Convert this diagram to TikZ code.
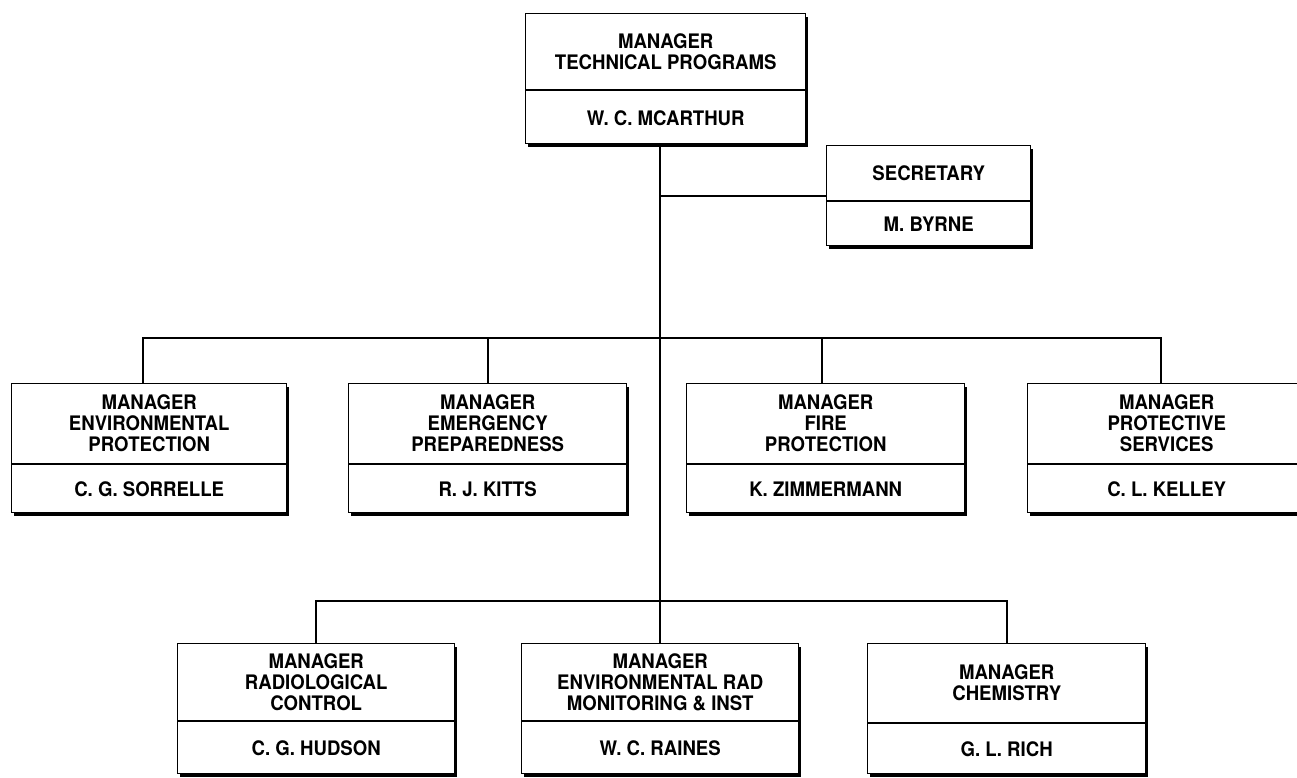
\documentclass[tikz,border=0pt]{standalone}
\usepackage{fontspec}
\setmainfont{TeX Gyre Heros}[FakeStretch=0.93]
\usetikzlibrary{calc,shadows}

\tikzset{
  unitbox/.style={draw, line width=1.4pt, fill=white, inner sep=0pt, anchor=north west,
    drop shadow={shadow xshift=2.5pt, shadow yshift=-3.5pt, fill=black, opacity=1}},
  unittitle/.style={align=center, inner sep=0pt, font=\bfseries\fontsize{20}{21}\selectfont},
  unitname/.style={inner sep=0pt, font=\bfseries\fontsize{20}{21}\selectfont},
  divider/.style={line width=1.4pt},
  link/.style={line width=1.6pt}
}

\begin{document}
\begin{tikzpicture}[x=1pt,y=1pt]
    \useasboundingbox (0,0) rectangle (1297,-778);
    \coordinate (row) at (0,-338);
    \coordinate (low) at (0,-601);

    % top
    \node[unitbox, minimum width=280, minimum height=130] (boss) at (525,-13) {};
    \draw[divider] ([yshift=-77]boss.north west) -- ([yshift=-77]boss.north east);
    \node[unittitle] (bossT) at ([yshift=-38.5]boss.north) {MANAGER\\TECHNICAL PROGRAMS};
    \node[unitname] (bossN) at ([yshift=26.5]boss.south) {W. C. MCARTHUR};

    \node[unitbox, minimum width=204, minimum height=100] (sec) at (826,-145) {};
    \draw[divider] ([yshift=-56]sec.north west) -- ([yshift=-56]sec.north east);
    \node[unitname] (secT) at ([yshift=-28]sec.north) {SECRETARY};
    \node[unitname] (secN) at ([yshift=22]sec.south) {M. BYRNE};

    % middle row
    \node[unitbox, minimum width=275, minimum height=129] (envp) at (11,-383) {};
    \draw[divider] ([yshift=-81]envp.north west) -- ([yshift=-81]envp.north east);
    \node[unittitle] (envpT) at ([yshift=-40.5]envp.north) {MANAGER\\ENVIRONMENTAL\\PROTECTION};
    \node[unitname] (envpN) at ([yshift=24]envp.south) {C. G. SORRELLE};

    \node[unitbox, minimum width=278, minimum height=129] (emer) at (348,-383) {};
    \draw[divider] ([yshift=-81]emer.north west) -- ([yshift=-81]emer.north east);
    \node[unittitle] (emerT) at ([yshift=-40.5]emer.north) {MANAGER\\EMERGENCY\\PREPAREDNESS};
    \node[unitname] (emerN) at ([yshift=24]emer.south) {R. J. KITTS};

    \node[unitbox, minimum width=278, minimum height=129] (fire) at (686,-383) {};
    \draw[divider] ([yshift=-81]fire.north west) -- ([yshift=-81]fire.north east);
    \node[unittitle] (fireT) at ([yshift=-40.5]fire.north) {MANAGER\\FIRE\\PROTECTION};
    \node[unitname] (fireN) at ([yshift=24]fire.south) {K. ZIMMERMANN};

    \node[unitbox, minimum width=278, minimum height=129] (prot) at (1027,-383) {};
    \draw[divider] ([yshift=-81]prot.north west) -- ([yshift=-81]prot.north east);
    \node[unittitle] (protT) at ([yshift=-40.5]prot.north) {MANAGER\\PROTECTIVE\\SERVICES};
    \node[unitname] (protN) at ([yshift=24]prot.south) {C. L. KELLEY};

    % bottom row
    \node[unitbox, minimum width=277, minimum height=130] (radc) at (177,-643) {};
    \draw[divider] ([yshift=-78]radc.north west) -- ([yshift=-78]radc.north east);
    \node[unittitle] (radcT) at ([yshift=-39]radc.north) {MANAGER\\RADIOLOGICAL\\CONTROL};
    \node[unitname] (radcN) at ([yshift=26]radc.south) {C. G. HUDSON};

    \node[unitbox, minimum width=277, minimum height=130] (envr) at (521,-643) {};
    \draw[divider] ([yshift=-78]envr.north west) -- ([yshift=-78]envr.north east);
    \node[unittitle] (envrT) at ([yshift=-39]envr.north) {MANAGER\\ENVIRONMENTAL RAD\\MONITORING \& INST};
    \node[unitname] (envrN) at ([yshift=26]envr.south) {W. C. RAINES};

    \node[unitbox, minimum width=278, minimum height=130] (chem) at (867,-643) {};
    \draw[divider] ([yshift=-80]chem.north west) -- ([yshift=-80]chem.north east);
    \node[unittitle] (chemT) at ([yshift=-40]chem.north) {MANAGER\\CHEMISTRY};
    \node[unitname] (chemN) at ([yshift=25]chem.south) {G. L. RICH};

    % lines
    \draw[link] (envr.north |- boss.south) -- (envr.north);
    \draw[link] (envr.north |- sec.west) -- (sec.west);
    \draw[link] ([xshift=-6]envp.north) -- ([xshift=-6]envp.north |- row) -- ([xshift=-6]prot.north |- row) -- ([xshift=-6]prot.north);
    \draw[link] (emer.north) -- (emer.north |- row);
    \draw[link] ([xshift=-4]fire.north) -- ([xshift=-4]fire.north |- row);
    \draw[link] (radc.north) -- (radc.north |- low) -- (chem.north |- low) -- (chem.north);
\end{tikzpicture}
\end{document}
